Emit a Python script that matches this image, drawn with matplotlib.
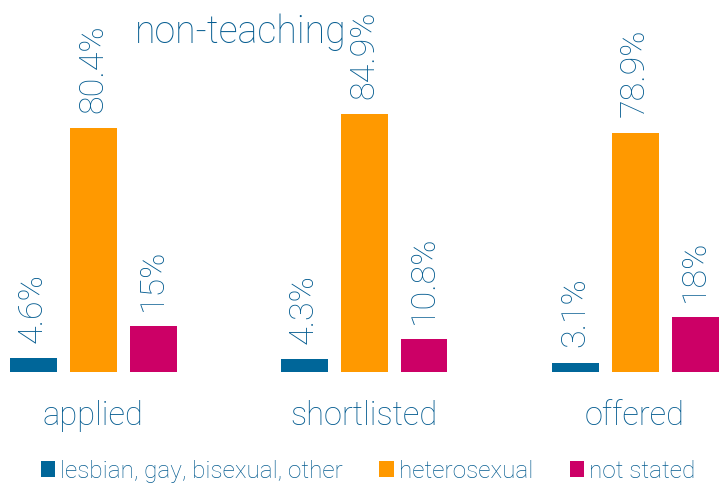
import matplotlib
matplotlib.use("Agg")
import matplotlib.pyplot as plt
import numpy as np

categories = ["applied", "shortlisted", "offered"]
series_names = ["lesbian, gay, bisexual, other", "heterosexual", "not stated"]
lgbo = [4.6, 4.3, 3.1]
hetero = [80.4, 84.9, 78.9]
not_stated = [15, 10.8, 18]
value_labels = [["4.6%", "4.3%", "3.1%"],
                ["80.4%", "84.9%", "78.9%"],
                ["15%", "10.8%", "18%"]]
title = "non-teaching"

colors = ["#006699", "#FF9900", "#CC0066"]
text_color = "#065d91"

plt.rcParams['font.family'] = ['Roboto', 'DejaVu Sans']

W, H = 719, 486
fig = plt.figure(figsize=(W / 100, H / 100), dpi=100)
base_px = 114
ax = fig.add_axes([0, base_px / H, 1, (H - base_px) / H])
px_per_unit = 271.0
ax.set_xlim(-93 / px_per_unit, (W - 93) / px_per_unit)
ax.set_ylim(0, (H - base_px) / 3.035)
ax.axis('off')

x = np.arange(len(categories))
offset = 60 / px_per_unit
width = 47 / px_per_unit
handles = []
for k, (vals, col) in enumerate(zip([lgbo, hetero, not_stated], colors)):
    pos = x + (k - 1) * offset
    b = ax.bar(pos, vals, width=width, color=col, label=series_names[k])
    handles.append(b)
    for xi, v, lab in zip(pos, vals, value_labels[k]):
        ax.text(xi, v + 5.0, lab, rotation=90, ha='center', va='bottom',
                fontsize=24.5, color=text_color, fontweight='light')

for xi, c in zip(x, categories):
    ax.text(xi, -14.5, c, ha='center', va='center', fontsize=23.5,
            color=text_color, fontweight='light')

fig.text(241 / W, 1 - 32 / H, title, ha='center', va='center', fontsize=27,
         color=text_color, fontweight='light')

leg = fig.legend(handles=handles, labels=series_names, ncol=3,
                 loc='center', bbox_to_anchor=(368 / W, 1 - 471 / H),
                 frameon=False, handlelength=0.6,
                 handleheight=0.6, handletextpad=0.2, columnspacing=1.5,
                 prop={'family': ['Roboto', 'DejaVu Sans'], 'weight': 'light', 'size': 17.5})
for t in leg.get_texts():
    t.set_color(text_color)

fig.savefig("out.png", dpi=100)
